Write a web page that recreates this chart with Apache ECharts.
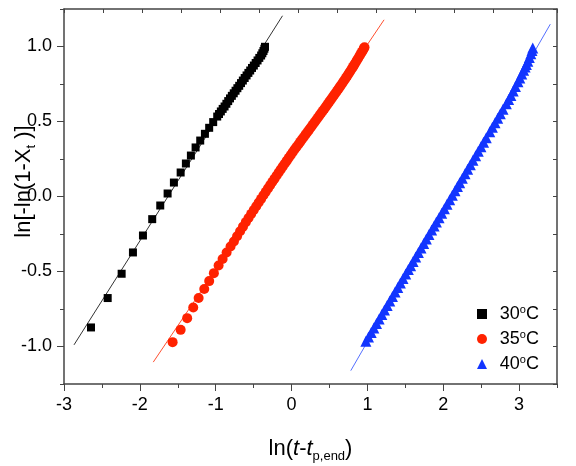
<!DOCTYPE html>
<html>
<head>
<meta charset="utf-8">
<script src="https://cdn.jsdelivr.net/npm/echarts@6/dist/echarts.min.js"></script>
<style>
  html, body { margin: 0; padding: 0; background: #fff; }
  #chart { width: 576px; height: 466px; }
</style>
</head>
<body>
<div id="chart"></div>
<script>
// 30 °C, squares
const pts30 = [
  [-2.644, -0.873], [-2.424, -0.677], [-2.240, -0.515], [-2.091, -0.373], [-1.959, -0.260],
  [-1.837, -0.151], [-1.731, -0.060], [-1.634, 0.020], [-1.551, 0.093], [-1.462, 0.160],
  [-1.393, 0.220], [-1.327, 0.273], [-1.265, 0.327], [-1.204, 0.373], [-1.142, 0.418],
  [-1.086, 0.458], [-1.033, 0.496], [-0.980, 0.533], [-0.956, 0.550], [-0.932, 0.567],
  [-0.908, 0.584], [-0.883, 0.600], [-0.859, 0.618], [-0.835, 0.636], [-0.811, 0.654],
  [-0.787, 0.671], [-0.762, 0.688], [-0.738, 0.705], [-0.714, 0.722], [-0.690, 0.738],
  [-0.666, 0.756], [-0.642, 0.773], [-0.618, 0.790], [-0.593, 0.807], [-0.569, 0.824],
  [-0.545, 0.840], [-0.521, 0.857], [-0.497, 0.873], [-0.473, 0.890], [-0.448, 0.907],
  [-0.425, 0.924], [-0.401, 0.940], [-0.385, 0.955], [-0.370, 0.970], [-0.358, 0.985],
  [-0.350, 0.998]
]

// 35 °C, circles
const pts35 = [
  [-1.568, -0.971], [-1.462, -0.889], [-1.376, -0.811], [-1.296, -0.740], [-1.225, -0.677],
  [-1.151, -0.617], [-1.086, -0.564], [-1.024, -0.511], [-0.962, -0.460], [-0.909, -0.417],
  [-0.856, -0.373], [-0.804, -0.333], [-0.760, -0.300], [-0.718, -0.265], [-0.678, -0.232],
  [-0.640, -0.201], [-0.603, -0.171], [-0.567, -0.143], [-0.532, -0.116], [-0.498, -0.090],
  [-0.465, -0.065], [-0.433, -0.040], [-0.401, -0.016], [-0.370, 0.008], [-0.340, 0.031],
  [-0.310, 0.054], [-0.281, 0.076], [-0.252, 0.098], [-0.224, 0.119], [-0.196, 0.140],
  [-0.168, 0.161], [-0.141, 0.181], [-0.114, 0.201], [-0.088, 0.220], [-0.062, 0.239],
  [-0.036, 0.258], [-0.010, 0.277], [0.015, 0.295], [0.040, 0.313], [0.065, 0.330],
  [0.090, 0.347], [0.114, 0.364], [0.138, 0.381], [0.162, 0.397], [0.186, 0.414],
  [0.210, 0.430], [0.233, 0.446], [0.256, 0.462], [0.279, 0.478], [0.302, 0.494],
  [0.325, 0.510], [0.347, 0.525], [0.369, 0.541], [0.391, 0.556], [0.413, 0.571],
  [0.435, 0.586], [0.456, 0.601], [0.477, 0.616], [0.498, 0.631], [0.519, 0.646],
  [0.540, 0.661], [0.561, 0.676], [0.581, 0.690], [0.601, 0.705], [0.621, 0.719],
  [0.641, 0.734], [0.661, 0.748], [0.680, 0.763], [0.699, 0.777], [0.718, 0.792],
  [0.737, 0.806], [0.756, 0.821], [0.774, 0.835], [0.792, 0.850], [0.810, 0.864],
  [0.828, 0.879], [0.845, 0.893], [0.862, 0.908], [0.879, 0.922], [0.896, 0.937],
  [0.912, 0.951], [0.928, 0.964], [0.944, 0.977], [0.955, 0.989], [0.962, 0.995]
]

// 40 °C, triangles
const pts40 = [
  [0.980, -0.965], [1.015, -0.936], [1.050, -0.906], [1.085, -0.876], [1.120, -0.846],
  [1.155, -0.816], [1.190, -0.786], [1.225, -0.756], [1.260, -0.727], [1.295, -0.697],
  [1.330, -0.667], [1.365, -0.637], [1.400, -0.607], [1.435, -0.577], [1.470, -0.547],
  [1.505, -0.517], [1.540, -0.487], [1.570, -0.461], [1.602, -0.434], [1.637, -0.404],
  [1.672, -0.374], [1.707, -0.344], [1.742, -0.314], [1.777, -0.284], [1.812, -0.254],
  [1.847, -0.224], [1.880, -0.196], [1.910, -0.170], [1.945, -0.141], [1.980, -0.111],
  [2.015, -0.081], [2.050, -0.051], [2.085, -0.021], [2.120, 0.009], [2.155, 0.039],
  [2.187, 0.066], [2.217, 0.092], [2.252, 0.122], [2.287, 0.152], [2.322, 0.182],
  [2.357, 0.212], [2.392, 0.242], [2.427, 0.272], [2.462, 0.302], [2.497, 0.332],
  [2.532, 0.362], [2.567, 0.392], [2.613, 0.431], [2.648, 0.461], [2.683, 0.491],
  [2.718, 0.521], [2.753, 0.551], [2.788, 0.581], [2.832, 0.619], [2.862, 0.646],
  [2.892, 0.674], [2.922, 0.703], [2.952, 0.733], [2.985, 0.765], [3.010, 0.790],
  [3.035, 0.816], [3.060, 0.842], [3.080, 0.863], [3.096, 0.880], [3.115, 0.902],
  [3.135, 0.926], [3.155, 0.952], [3.170, 0.973], [3.180, 0.990]
]

// fitted lines (end points)
const fit30 = [[-2.868, -0.989], [-0.119, 1.205]]
const fit35 = [[-1.823, -1.104], [1.220, 1.178]]
const fit40 = [[0.781, -1.161], [3.412, 1.149]]

const seriesNames = ['30°C', '35°C', '40°C']
const xMajor = [-3, -2, -1, 0, 1, 2, 3]
const xMinor = [-2.5, -1.5, -0.5, 0.5, 1.5, 2.5, 3.5]
const yMajor = [-1, -0.5, 0, 0.5, 1]
const yMinor = [-1.25, -0.75, -0.25, 0.25, 0.75, 1.25]

const FONT = 'Liberation Sans, Arial, sans-serif'
const AXIS_COLOR = '#444'

const chart = echarts.init(document.getElementById('chart'))

const plainAxis = {
  type: 'value',
  splitLine: { show: false },
  axisLabel: { show: false },
}

chart.setOption({
  animation: false,
  backgroundColor: '#fff',
  grid: { left: 64, right: 19, top: 9, bottom: 82, containLabel: false, outerBoundsMode: 'none' },
  legend: {
    orient: 'vertical',
    left: 472,
    top: 299,
    itemWidth: 10,
    itemHeight: 10,
    itemGap: 5,
    symbolKeepAspect: true,
    data: seriesNames,
    formatter: (n) => '{g|\u00a0\u00a0}' + n.slice(0, 2) + '{sup|o}C',
    textStyle: {
      fontFamily: FONT,
      fontSize: 18,
      color: '#000',
      lineHeight: 20,
      rich: {
        g: { fontSize: 14, fontFamily: FONT },
        sup: { fontSize: 11, fontFamily: FONT, padding: [0, 0, 9, 0] },
      },
    },
  },
  xAxis: [
    {
      ...plainAxis,
      min: -3,
      max: 3.5,
      interval: 0.5,
      axisLine: { onZero: false, lineStyle: { color: AXIS_COLOR, width: 1.5 } },
      axisTick: { customValues: xMajor, length: 7, lineStyle: { color: AXIS_COLOR } },
      axisLabel: {
        customValues: xMajor,
        margin: 12,
        fontFamily: FONT,
        fontSize: 18,
        color: '#000',
      },
      name: 'ln({i|t}-{i|t}{sub|p,end})',
      nameLocation: 'middle',
      nameGap: 50,
      nameMoveOverlap: false,
      nameTextStyle: {
        fontFamily: FONT,
        fontSize: 22,
        color: '#000',
        rich: {
          i: { fontFamily: FONT, fontSize: 22, fontStyle: 'italic', color: '#000' },
          sub: { fontFamily: FONT, fontSize: 13, color: '#000', padding: [16, 0, 0, 0] },
        },
      },
    },
    {
      ...plainAxis,
      position: 'top',
      min: 0,
      max: 12.64,
      interval: 1,
      axisLine: { onZero: false, lineStyle: { color: AXIS_COLOR, width: 1.5 } },
      axisTick: { inside: true, length: 4, lineStyle: { color: AXIS_COLOR } },
    },
    {
      ...plainAxis,
      position: 'bottom',
      min: -3,
      max: 3.5,
      interval: 0.5,
      axisLine: { show: false, onZero: false },
      axisTick: { customValues: xMinor, length: 4, lineStyle: { color: AXIS_COLOR } },
    },
  ],
  yAxis: [
    {
      ...plainAxis,
      min: -1.25,
      max: 1.25,
      interval: 0.25,
      axisLine: { onZero: false, lineStyle: { color: AXIS_COLOR, width: 1.5 } },
      axisTick: { customValues: yMajor, length: 7, lineStyle: { color: AXIS_COLOR } },
      axisLabel: {
        customValues: yMajor,
        margin: 12,
        fontFamily: FONT,
        fontSize: 18,
        color: '#000',
        formatter: (v) => v.toFixed(1),
      },
      name: 'ln[-ln(1-X{sub|t} )]',
      nameLocation: 'middle',
      nameGap: 26,
      nameMoveOverlap: false,
      nameTextStyle: {
        fontFamily: FONT,
        fontSize: 22,
        color: '#000',
        padding: [0, 0, 0, 30],
        rich: {
          sub: { fontFamily: FONT, fontSize: 13, color: '#000', padding: [16, 0, 0, 0] },
        },
      },
    },
    {
      ...plainAxis,
      position: 'right',
      min: -1.25,
      max: 1.25,
      interval: 0.25,
      axisLine: { onZero: false, lineStyle: { color: AXIS_COLOR, width: 1.5 } },
      axisTick: { inside: true, length: 4, lineStyle: { color: AXIS_COLOR } },
    },
    {
      ...plainAxis,
      position: 'left',
      min: -1.25,
      max: 1.25,
      interval: 0.25,
      axisLine: { show: false, onZero: false },
      axisTick: { customValues: yMinor, length: 4, lineStyle: { color: AXIS_COLOR } },
    },
  ],
  series: [
    { type: 'line', data: fit30, symbol: 'none', silent: true, z: 1, lineStyle: { width: 1, color: '#333' } },
    { type: 'line', data: fit35, symbol: 'none', silent: true, z: 1, lineStyle: { width: 1, color: '#ff5030' } },
    { type: 'line', data: fit40, symbol: 'none', silent: true, z: 1, lineStyle: { width: 1, color: '#5570ff' } },
    {
      name: seriesNames[0], type: 'scatter', data: pts30, symbol: 'rect', symbolSize: 8, z: 3,
      symbolKeepAspect: true, itemStyle: { color: '#000', opacity: 1 },
    },
    {
      name: seriesNames[1], type: 'scatter', data: pts35, symbol: 'circle', symbolSize: 10, z: 3,
      symbolKeepAspect: true, itemStyle: { color: '#ff2200', opacity: 1 },
    },
    {
      name: seriesNames[2], type: 'scatter', data: pts40, symbol: 'triangle', symbolSize: 11, z: 3,
      symbolKeepAspect: true, itemStyle: { color: '#1235ff', opacity: 1 },
    },
  ],
})
</script>
</body>
</html>
